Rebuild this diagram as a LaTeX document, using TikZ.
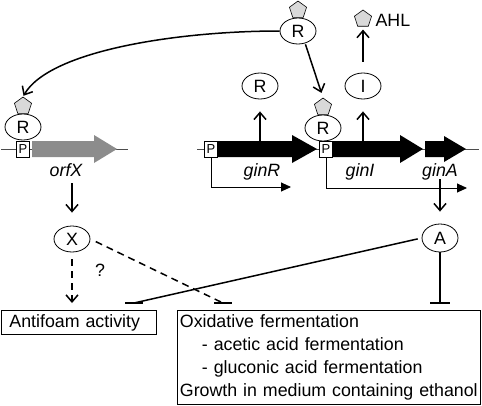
\documentclass[tikz,border=0pt]{standalone}
\usepackage{fontspec}
\setmainfont{Liberation Sans}
\usetikzlibrary{arrows.meta,shapes.geometric,positioning}

\begin{document}
\begin{tikzpicture}[x=1pt,y=-1pt,
  font=\fontsize{17.8}{22.7}\selectfont,
  prot/.style={draw, ellipse, line width=0.8pt, minimum width=36pt, minimum height=26pt, inner sep=0pt, fill=white},
  ahl/.style={draw, regular polygon, regular polygon sides=5, minimum size=18pt, inner sep=0pt, fill=black!15, line width=0.6pt},
  prom/.style={draw, fill=white, line width=0.6pt, minimum width=13pt, minimum height=16pt, inner sep=0pt, font=\fontsize{13}{13}\selectfont},
  gene/.style={font=\fontsize{17.8}{20}\selectfont\itshape},
  act/.style={line width=1.5pt, -{Straight Barb[length=7pt,width=12pt]}},
  tx/.style={line width=0.9pt, -{Triangle[length=10pt,width=9pt]}},
  inh/.style={line width=1.5pt},
  dash7/.style={dash pattern=on 7pt off 5pt},
  box/.style={draw, line width=0.8pt, anchor=north west, align=left, inner ysep=3pt}
]
  \useasboundingbox (0,0) rectangle (482,405);

  \draw[line width=0.7pt, black!70] (1,149) coordinate (l0) -- (128,149) coordinate (l1);
  \draw[line width=0.7pt, black!70] (197,149) coordinate (r0) -- (479,149) coordinate (r1);

  \fill[black!45] (32,141) -- (94,141) -- (94,135) -- (117,149) -- (94,163) -- (94,157) -- (32,157) -- cycle;
  \fill (218,141) -- (292,141) -- (292,135) -- (317,149) -- (292,163) -- (292,157) -- (218,157) -- cycle;
  \fill (333,141) -- (400,141) -- (400,135) -- (423,149) -- (400,163) -- (400,157) -- (333,157) -- cycle;
  \fill (425,141) -- (444,141) -- (444,136) -- (466,149) -- (444,162) -- (444,157) -- (425,157) -- cycle;

  \node[prom] (P1) at (23,149) {P};
  \node[prom] (P2) at (211,149) {P};
  \node[prom] (P3) at (326,149) {P};

  \node[prot] (R1) at (23,127) {R};
  \node[ahl, above=0pt of R1] (A1) {};
  \node[prot] (Rt) at (298,31) {R};
  \node[ahl, above=0pt of Rt] (At) {};
  \node[prot] (R3) at (323,128) {R};
  \node[ahl, above=0pt of R3] (A3) {};
  \node[prot] (R2) at (260,86) {R};
  \node[prot] (I) at (363,86) {I};
  \node[ahl] (AHL) at (363,19) {};
  \node[anchor=west] (AHLt) at (372,20) {AHL};

  \node[gene] (orfX) at (66,170) {orfX};
  \node[gene] (ginR) at (262,172) {ginR};
  \node[gene] (ginI) at (360,172) {ginI};
  \node[gene] (ginA) at (440,172) {ginA};

  \node[prot] (X) at (72,239) {X};
  \node[prot, minimum height=28pt] (A) at (440,238) {A};
  \node (q) at (100,270) {?};

  \node[box, minimum width=155pt, minimum height=24pt, text width=139pt, inner xsep=8pt] (af) at (1,310) {Antifoam activity};
  \node[box, minimum height=94pt, text width=298pt, inner xsep=2.5pt] (ox) at (177,310) {Oxidative fermentation\\
    \hspace*{22pt}- acetic acid fermentation\\
    \hspace*{22pt}- gluconic acid fermentation\\
    Growth in medium containing ethanol};

  \coordinate (eR) at (291,187);
  \coordinate (eI) at (467,188);
  \draw[tx] (P2.south) |- (eR);
  \draw[tx] (P3.south) |- (eI);

  \coordinate (gR) at (260,141);
  \coordinate (gI) at (363,141);
  \draw[act, shorten >=12pt] (gR) -- (R2.south);
  \draw[act, shorten >=12pt] (gI) -- (I.south);
  \draw[act, shorten <=11pt, shorten >=3pt] (I.north) -- (AHL.south);

  \draw[act, shorten >=1pt] (Rt.west) .. controls (180,31) and (50,50) .. (A1.north);
  \draw[act, shorten <=1pt, shorten >=5pt] (Rt.-60) -- (A3.north);

  \coordinate (oX) at (72,183);
  \draw[act, shorten >=13pt] (oX) -- (X.north);
  \coordinate (tA) at (440,179);
  \draw[act, shorten >=12pt] (tA) -- (A.north);

  \draw[act, dash7, shorten <=7pt, shorten >=7pt] (X.south) -- (X |- af.north);

  \coordinate (bX) at (223,303);
  \coordinate (bO) at (134,303);
  \coordinate (bA) at (440,303);
  \draw[inh, dash7, shorten <=6pt] (X.east) -- (bX);
  \draw[inh] (bX) ++(-9,0) -- ++(18,0);
  \draw[inh, shorten <=4pt] (A.west) -- (bO);
  \draw[inh] (bO) ++(-9,0) -- ++(18,0);
  \draw[inh] (A.south) -- (bA);
  \draw[inh] (bA) ++(-10,0) -- ++(20,0);
\end{tikzpicture}
\end{document}
